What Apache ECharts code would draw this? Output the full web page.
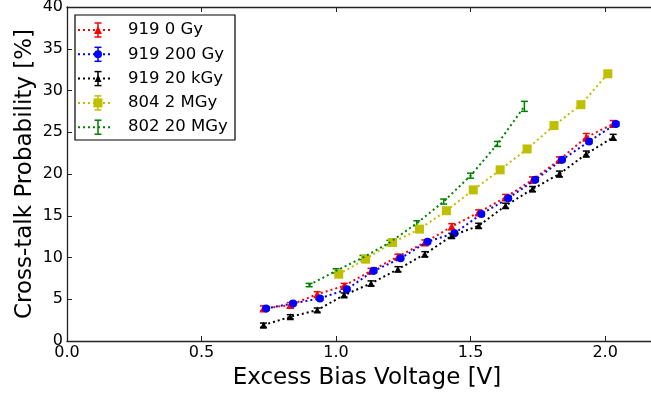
<!DOCTYPE html>
<html>
<head>
<meta charset="utf-8">
<script src="https://cdn.jsdelivr.net/npm/echarts@6/dist/echarts.min.js"></script>
<style>html,body{margin:0;padding:0;background:#fff;}#c{width:651px;height:396px;}</style>
</head>
<body>
<div id="c"></div>
<script>
// ---- data ----
const xTickLabels = ['0.0', '0.5', '1.0', '1.5', '2.0'];
const yTickLabels = ['0', '5', '10', '15', '20', '25', '30', '35', '40'];

const names = ['919 0 Gy', '919 200 Gy', '919 20 kGy', '804 2 MGy', '802 20 MGy'];

const x919_0 = [0.73, 0.83, 0.93, 1.03, 1.13, 1.23, 1.33, 1.43, 1.53, 1.63, 1.73, 1.83, 1.93, 2.03];
const y919_0 = [3.9, 4.3, 5.6, 6.6, 8.4, 10.1, 11.8, 13.7, 15.4, 17.2, 19.3, 21.7, 24.4, 26.0];
const e919_0 = [0.3, 0.3, 0.3, 0.3, 0.3, 0.3, 0.3, 0.35, 0.3, 0.35, 0.35, 0.35, 0.45, 0.4];

const x919_200 = [0.74, 0.84, 0.94, 1.04, 1.14, 1.24, 1.34, 1.44, 1.54, 1.64, 1.74, 1.84, 1.94, 2.04];
const y919_200 = [3.9, 4.5, 5.1, 6.2, 8.4, 9.9, 11.9, 12.9, 15.2, 17.1, 19.3, 21.7, 23.9, 26.0];
const e919_200 = [0.2, 0.2, 0.2, 0.2, 0.2, 0.2, 0.2, 0.2, 0.2, 0.2, 0.2, 0.2, 0.25, 0.25];

const x919_20k = [0.73, 0.83, 0.93, 1.03, 1.13, 1.23, 1.33, 1.43, 1.53, 1.63, 1.73, 1.83, 1.93, 2.03];
const y919_20k = [1.9, 2.9, 3.7, 5.5, 6.9, 8.6, 10.4, 12.6, 13.8, 16.2, 18.2, 20.0, 22.4, 24.4];
const e919_20k = [0.25, 0.25, 0.25, 0.25, 0.3, 0.3, 0.3, 0.3, 0.3, 0.3, 0.3, 0.35, 0.35, 0.35];

const x804 = [1.01, 1.11, 1.21, 1.31, 1.41, 1.51, 1.61, 1.71, 1.81, 1.91, 2.01];
const y804 = [8.0, 9.8, 11.8, 13.4, 15.6, 18.1, 20.5, 23.0, 25.8, 28.3, 32.0];
const e804 = [0.2, 0.2, 0.2, 0.2, 0.2, 0.2, 0.2, 0.2, 0.2, 0.2, 0.2];

const x802 = [0.90, 1.00, 1.10, 1.20, 1.30, 1.40, 1.50, 1.60, 1.70];
const y802 = [6.7, 8.4, 10.0, 11.8, 14.1, 16.7, 19.8, 23.6, 28.1];
const e802 = [0.2, 0.25, 0.25, 0.25, 0.3, 0.3, 0.3, 0.3, 0.6];

// ---- styling ----
const colors = ['#ff0000', '#0000ff', '#000000', '#bfbf00', '#008000'];
const symbols = ['triangle', 'circle', 'triangle', 'rect', 'none'];
const symbolSizes = [8, 8, 7, 9, 0];
const sets = [
  [x919_0, y919_0, e919_0],
  [x919_200, y919_200, e919_200],
  [x919_20k, y919_20k, e919_20k],
  [x804, y804, e804],
  [x802, y802, e802]
];

const series = [];
sets.forEach(function (s, i) {
  const pts = s[0].map(function (x, k) { return [x, s[1][k], s[2][k]]; });
  series.push({
    name: names[i],
    type: 'line',
    data: pts.map(function (p) { return [p[0], p[1]]; }),
    symbol: symbols[i],
    symbolSize: symbolSizes[i],
    showSymbol: symbols[i] !== 'none',
    color: colors[i],
    itemStyle: { color: colors[i] },
    lineStyle: { color: colors[i], width: 2, type: [2, 3] },
    z: 3 + i,
    animation: false
  });
  series.push({
    name: names[i],
    type: 'custom',
    data: pts,
    z: 2 + i,
    animation: false,
    renderItem: function (params, api) {
      const x = api.value(0), y = api.value(1), e = api.value(2);
      const top = api.coord([x, y + e]);
      const bot = api.coord([x, y - e]);
      const cap = 3.5;
      const st = { stroke: colors[i], lineWidth: 1.5 };
      return {
        type: 'group',
        children: [
          { type: 'line', shape: { x1: top[0], y1: top[1], x2: bot[0], y2: bot[1] }, style: st },
          { type: 'line', shape: { x1: top[0] - cap, y1: top[1], x2: top[0] + cap, y2: top[1] }, style: st },
          { type: 'line', shape: { x1: bot[0] - cap, y1: bot[1], x2: bot[0] + cap, y2: bot[1] }, style: st }
        ]
      };
    }
  });
});

// ---- legend drawn as graphic (matplotlib-style errorbar handles) ----
const font = 'DejaVu Sans';
const legendEls = [{
  type: 'rect', shape: { x: 75, y: 15, width: 160, height: 125 },
  style: { fill: '#fff', stroke: '#000', lineWidth: 1.2 }, z: 100
}];
names.forEach(function (n, i) {
  const cy = 30 + 24.3 * i;
  const c = colors[i];
  legendEls.push({ type: 'line', shape: { x1: 78, y1: cy, x2: 113, y2: cy },
    style: { stroke: c, lineWidth: 2, lineDash: [2, 3] }, z: 101 });
  legendEls.push({ type: 'line', shape: { x1: 98, y1: cy - 7, x2: 98, y2: cy + 7 },
    style: { stroke: c, lineWidth: 1.5 }, z: 101 });
  legendEls.push({ type: 'line', shape: { x1: 94.5, y1: cy - 7, x2: 101.5, y2: cy - 7 },
    style: { stroke: c, lineWidth: 1.5 }, z: 101 });
  legendEls.push({ type: 'line', shape: { x1: 94.5, y1: cy + 7, x2: 101.5, y2: cy + 7 },
    style: { stroke: c, lineWidth: 1.5 }, z: 101 });
  if (symbols[i] === 'triangle') {
    const h = symbolSizes[i] / 2;
    legendEls.push({ type: 'polygon', shape: { points: [[98, cy - h], [98 + h, cy + h], [98 - h, cy + h]] },
      style: { fill: c }, z: 102 });
  } else if (symbols[i] === 'circle') {
    legendEls.push({ type: 'circle', shape: { cx: 98, cy: cy, r: symbolSizes[i] / 2 }, style: { fill: c }, z: 102 });
  } else if (symbols[i] === 'rect') {
    const h = symbolSizes[i] / 2;
    legendEls.push({ type: 'rect', shape: { x: 98 - h, y: cy - h, width: 2 * h, height: 2 * h }, style: { fill: c }, z: 102 });
  }
  legendEls.push({ type: 'text', x: 128, y: cy,
    style: { text: n, fontFamily: font, fontSize: 16.5, fill: '#000', textVerticalAlign: 'middle', verticalAlign: 'middle' }, z: 102 });
});

const axisColor = '#222';

const chart = echarts.init(document.getElementById('c'), null, { renderer: 'canvas' });
chart.setOption({
  animation: false,
  backgroundColor: '#fff',
  textStyle: { fontFamily: font },
  grid: { left: 67, right: -16, top: 7, bottom: 55, outerBoundsMode: 'none', containLabel: false },
  graphic: legendEls,
  xAxis: [{
    type: 'value',
    min: 0, max: 2.23, interval: 0.5,
    name: 'Excess Bias Voltage [V]',
    nameLocation: 'middle',
    nameGap: 26,
    nameTextStyle: { fontFamily: font, fontSize: 23, color: '#000' },
    axisLine: { show: true, onZero: false, lineStyle: { color: axisColor, width: 1.3 } },
    axisTick: { show: true, inside: true, length: 5, lineStyle: { color: axisColor } },
    axisLabel: {
      fontFamily: font, fontSize: 16, color: '#000', margin: 4, showMaxLabel: false,
      formatter: function (v) { const i = Math.round(v / 0.5); return xTickLabels[i] !== undefined && Math.abs(v - i * 0.5) < 1e-6 ? xTickLabels[i] : ''; }
    },
    splitLine: { show: false }
  }, {
    type: 'value',
    position: 'top',
    min: 0, max: 2.23, interval: 0.5,
    axisLine: { show: true, onZero: false, lineStyle: { color: axisColor, width: 1.3 } },
    axisTick: { show: true, inside: true, length: 5, lineStyle: { color: axisColor } },
    axisLabel: { show: false },
    splitLine: { show: false }
  }],
  yAxis: [{
    type: 'value',
    min: 0, max: 40, interval: 5,
    name: 'Cross-talk Probability [%]',
    nameLocation: 'middle',
    nameGap: 30,
    nameMoveOverlap: false,
    nameTextStyle: { fontFamily: font, fontSize: 23, color: '#000' },
    axisLine: { show: true, onZero: false, lineStyle: { color: axisColor, width: 1.3 } },
    axisTick: { show: true, inside: true, length: 5, lineStyle: { color: axisColor } },
    axisLabel: {
      fontFamily: font, fontSize: 16, color: '#000', margin: 4,
      formatter: function (v) { return yTickLabels[Math.round(v / 5)]; }
    },
    splitLine: { show: false }
  }],
  series: series
});
</script>
</body>
</html>
